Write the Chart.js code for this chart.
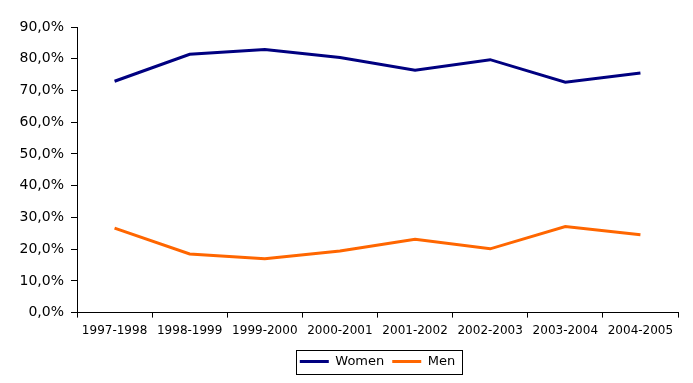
<!DOCTYPE html>
<html>
<head>
<meta charset="utf-8">
<script src="https://cdn.jsdelivr.net/npm/chart.js@4/dist/chart.umd.min.js"></script>
<style>
  html, body { margin: 0; padding: 0; background: #fff; }
  #wrap { width: 693px; height: 383px; position: relative; }
</style>
</head>
<body>
<div id="wrap"><canvas id="c" width="693" height="383"></canvas></div>
<script>
const categories = ["1997-1998", "1998-1999", "1999-2000", "2000-2001", "2001-2002", "2002-2003", "2003-2004", "2004-2005"];
const women = [72.9, 81.4, 82.9, 80.4, 76.4, 79.7, 72.6, 75.5];
const men = [26.6, 18.5, 17.0, 19.4, 23.1, 20.1, 27.1, 24.5];
const yMin = 0, yMax = 90, yStep = 10;

const FONT = "'DejaVu Sans', Verdana, sans-serif";

const legendBorder = {
  id: 'legendBorder',
  afterDraw(chart) {
    const lg = chart.legend;
    if (!lg || !lg.legendHitBoxes || !lg.legendHitBoxes.length) return;
    const hb = lg.legendHitBoxes;
    const first = hb[0], last = hb[hb.length - 1];
    const left = first.left - 4;
    const right = last.left + last.width + 7;
    const cy = first.top + first.height / 2;
    const ctx = chart.ctx;
    ctx.save();
    ctx.strokeStyle = '#000';
    ctx.lineWidth = 1;
    ctx.strokeRect(Math.round(left) + 0.5, Math.round(cy - 12) + 0.5, Math.round(right - left), 24);
    ctx.restore();
  }
};

new Chart(document.getElementById('c'), {
  type: 'line',
  data: {
    labels: categories,
    datasets: [
      { label: 'Women', data: women, borderColor: '#000080', backgroundColor: '#000080', borderWidth: 3, pointRadius: 0, tension: 0, fill: false },
      { label: 'Men', data: men, borderColor: '#FF6600', backgroundColor: '#FF6600', borderWidth: 3, pointRadius: 0, tension: 0, fill: false }
    ]
  },
  options: {
    responsive: false,
    animation: false,
    events: [],
    layout: { padding: { top: 27, right: 15, bottom: 5, left: 0 } },
    plugins: {
      tooltip: { enabled: false },
      title: { display: false },
      legend: {
        position: 'bottom',
        fullSize: false,
        labels: {
          font: { family: FONT, size: 13 },
          color: '#000',
          boxWidth: 29,
          boxHeight: 3,
          padding: 8,
          generateLabels(chart) {
            return chart.data.datasets.map((d, i) => ({
              text: d.label,
              fillStyle: d.borderColor,
              strokeStyle: d.borderColor,
              lineWidth: 0,
              datasetIndex: i,
              hidden: false
            }));
          }
        }
      }
    },
    scales: {
      x: {
        type: 'category',
        offset: true,
        afterFit(scale) { scale.height = 34.4; },
        grid: { display: true, drawOnChartArea: false, drawTicks: true, tickLength: 5, color: '#000', offset: true },
        border: { display: true, color: '#000', width: 1 },
        ticks: { font: { family: FONT, size: 12 }, color: '#000', padding: 6, maxRotation: 0, autoSkip: false }
      },
      y: {
        min: yMin,
        max: yMax,
        afterFit(scale) { scale.width = 77; },
        grid: { display: true, drawOnChartArea: false, drawTicks: true, tickLength: 6, color: '#000' },
        border: { display: true, color: '#000', width: 1 },
        ticks: {
          stepSize: yStep,
          font: { family: FONT, size: 14 },
          color: '#000',
          padding: 7,
          callback: v => v.toFixed(1).replace('.', ',') + '%'
        }
      }
    }
  },
  plugins: [legendBorder]
});
</script>
</body>
</html>
